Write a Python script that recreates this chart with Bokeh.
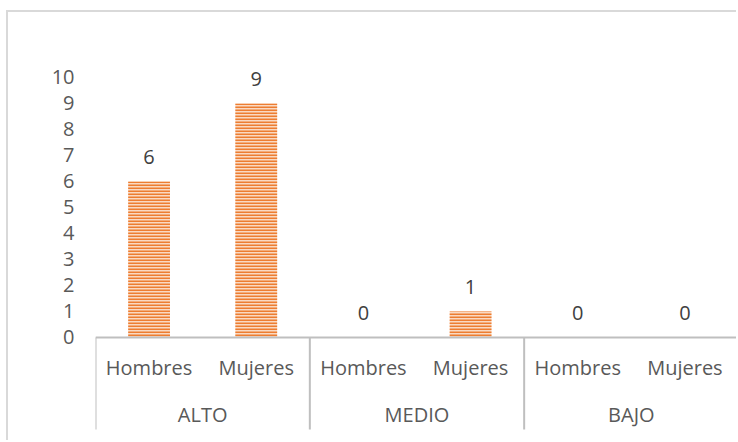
from bokeh.plotting import figure
from bokeh.models import FactorRange, Range1d, FixedTicker, CategoricalAxis, ColumnDataSource
from bokeh.core.properties import value
from bokeh.embed import file_html
from bokeh.resources import INLINE

groups = ["ALTO", "MEDIO", "BAJO"]
subs = ["Hombres", "Mujeres"]
counts = [6, 9, 0, 1, 0, 0]
y_ticks = [0, 1, 2, 3, 4, 5, 6, 7, 8, 9, 10]

factors = [(g, s) for g in groups for s in subs]
src = ColumnDataSource(dict(x=factors, top=counts, lab=[str(v) for v in counts]))

FONT = "Open Sans"
TXT = "#595959"
GRID = "#bfbfbf"

p = figure(width=730, height=430, output_backend="svg", toolbar_location=None,
           x_range=FactorRange(*factors, group_padding=0, factor_padding=0, range_padding=0),
           y_range=Range1d(-3.577, 12.19), x_axis_location=None,
           min_border_left=87, min_border_right=0, min_border_top=8, min_border_bottom=12)
p.styles = {"margin-left": "6px", "margin-top": "10px",
            "border-left": "2px solid #d9d9d9", "border-top": "2px solid #d9d9d9"}
p.outline_line_color = None
p.border_fill_color = "white"
p.xgrid.grid_line_color = None
p.ygrid.grid_line_color = None
p.background_fill_color = "white"

p.vbar(x="x", top="top", width=0.39, source=src, fill_color="#FAD9C2", line_color=None,
       hatch_pattern="horizontal_line", hatch_color="#ED7D31", hatch_scale=3, hatch_weight=2)

p.text(x="x", y="top", text="lab", source=src, text_align="center", text_baseline="middle",
       y_offset=-24, text_font=value(FONT), text_font_size="20px", text_color="#404040")

# group boundary lines of the category axis
edges = [(g, subs[0], -0.5) for g in groups]
p.segment(x0=edges, y0=[0] * len(edges), x1=edges, y1=[-3.54] * len(edges),
          line_color=GRID, line_width=2)

yax = p.yaxis[0]
yax.ticker = FixedTicker(ticks=y_ticks)
yax.axis_line_color = None
yax.major_tick_line_color = None
yax.minor_tick_line_color = None
yax.major_label_standoff = 15
yax.major_label_text_font = FONT
yax.major_label_text_font_size = "20px"
yax.major_label_text_color = TXT

ax_a = CategoricalAxis(fixed_location=0)
ax_a.axis_line_color = GRID
ax_a.axis_line_width = 2
ax_a.major_tick_line_color = None
ax_a.minor_tick_line_color = None
ax_a.major_label_standoff = 11
ax_a.major_label_text_font = FONT
ax_a.major_label_text_font_size = "20px"
ax_a.major_label_text_color = TXT
ax_a.group_text_color = None
ax_a.separator_line_color = None
p.add_layout(ax_a, "below")

ax_b = CategoricalAxis(fixed_location=-2.23)
ax_b.axis_line_color = None
ax_b.major_tick_line_color = None
ax_b.minor_tick_line_color = None
ax_b.major_label_standoff = 0
ax_b.major_label_text_font = FONT
ax_b.major_label_text_font_size = "20px"
ax_b.major_label_text_color = None
ax_b.group_text_font = FONT
ax_b.group_text_font_size = "20px"
ax_b.group_text_font_style = "normal"
ax_b.group_text_color = TXT
ax_b.separator_line_color = None
p.add_layout(ax_b, "below")

open("out.html", "w").write(file_html(p, INLINE))
